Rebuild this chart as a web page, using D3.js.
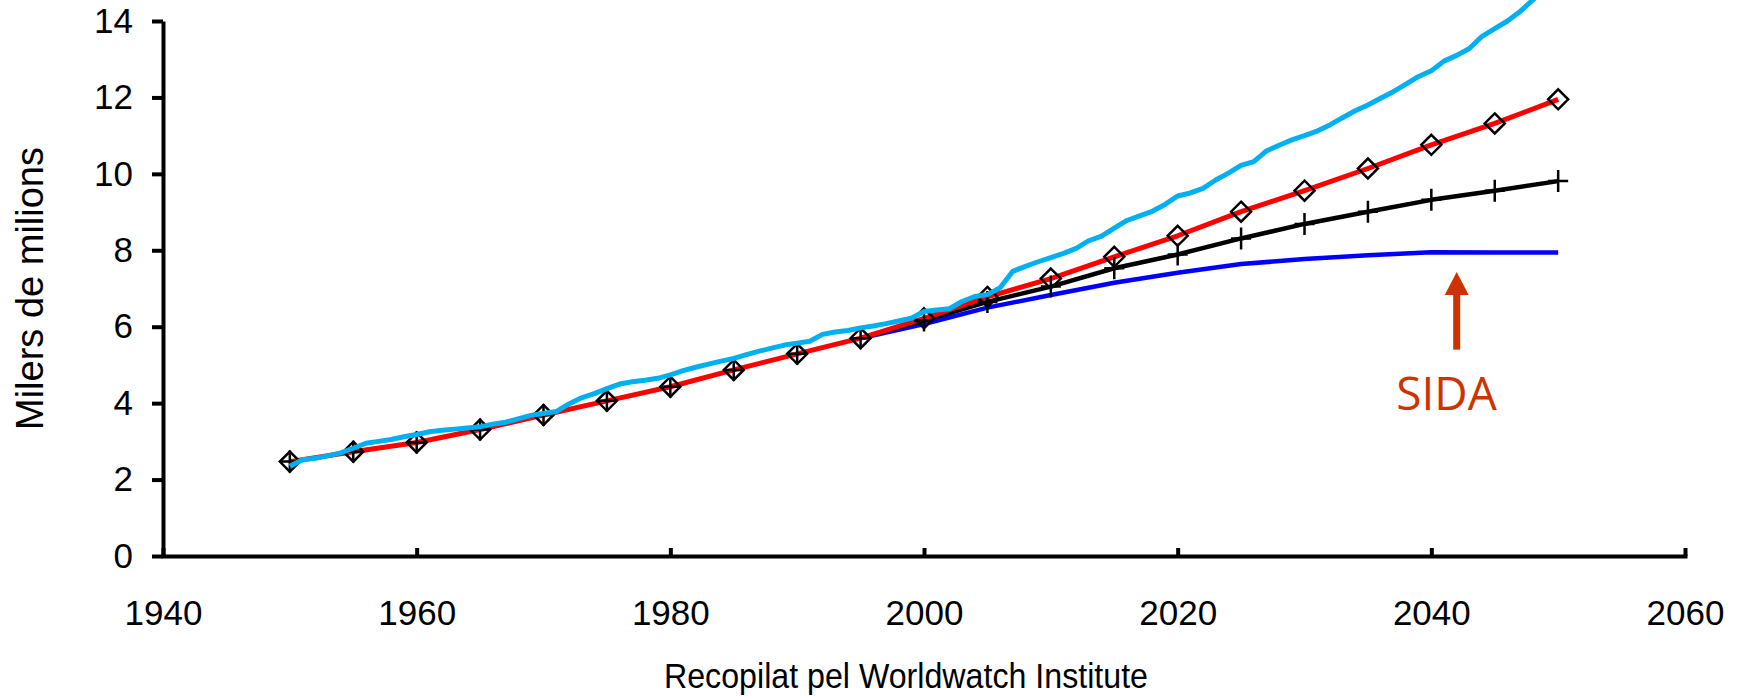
<!DOCTYPE html>
<html>
<head>
<meta charset="utf-8">
<script src="https://cdn.jsdelivr.net/npm/d3@7"></script>
<style>
  html, body { margin: 0; padding: 0; background: #fff; }
  svg { display: block; }
</style>
</head>
<body>
<div id="app"></div>
<script>
// 尺寸
const width = 1741;
const height = 696;
const padding = { left: 163, right: 56, top: 21, bottom: 140 };
const chartWidth = width - padding.left - padding.right;
const chartHeight = height - padding.top - padding.bottom;

// 数据：每5年一个点
const years5 = [1950, 1955, 1960, 1965, 1970, 1975, 1980, 1985, 1990, 1995, 2000,
  2005, 2010, 2015, 2020, 2025, 2030, 2035, 2040, 2045, 2050];
const redValues = [2.47, 2.73, 2.97, 3.31, 3.69, 4.06, 4.43, 4.87, 5.29, 5.70, 6.22,
  6.78, 7.26, 7.83, 8.38, 9.01, 9.56, 10.14, 10.76, 11.32, 11.95];
const blackValues = [2.47, 2.73, 2.97, 3.31, 3.69, 4.06, 4.43, 4.87, 5.29, 5.70, 6.16,
  6.65, 7.05, 7.53, 7.89, 8.31, 8.69, 9.01, 9.32, 9.56, 9.81];
const blueYears = [1995, 2000, 2005, 2010, 2015, 2020, 2025, 2030, 2035, 2040, 2045, 2050];
const blueValues = [5.70, 6.07, 6.50, 6.83, 7.15, 7.41, 7.64, 7.77, 7.87, 7.95, 7.94, 7.94];

// 每年的数据（浅蓝线）
const cyanYears = d3.range(1950, 2051);
const cyanValues = [
  2.35, 2.52, 2.56, 2.62, 2.70, 2.82, 2.95, 3.00, 3.05, 3.12,
  3.18, 3.25, 3.29, 3.32, 3.35, 3.38, 3.45, 3.50, 3.59, 3.68,
  3.73, 3.78, 3.98, 4.14, 4.25, 4.38, 4.50, 4.56, 4.60, 4.65,
  4.74, 4.85, 4.94, 5.02, 5.10, 5.17, 5.27, 5.36, 5.44, 5.52,
  5.57, 5.62, 5.80, 5.86, 5.90, 5.97, 6.02, 6.08, 6.15, 6.22,
  6.40, 6.44, 6.47, 6.66, 6.79, 6.84, 7.02, 7.45, 7.58, 7.70,
  7.81, 7.92, 8.05, 8.25, 8.37, 8.58, 8.78, 8.90, 9.02, 9.20,
  9.42, 9.50, 9.62, 9.84, 10.02, 10.22, 10.32, 10.60, 10.75, 10.89,
  11.00, 11.12, 11.28, 11.47, 11.65, 11.80, 11.98, 12.15, 12.35, 12.55,
  12.70, 12.95, 13.10, 13.28, 13.60, 13.80, 14.00, 14.25, 14.55, 14.85,
  15.15
];

const xTicks = [1940, 1960, 1980, 2000, 2020, 2040, 2060];
const yTicks = [0, 2, 4, 6, 8, 10, 12, 14];

const svg = d3.select('#app').append('svg')
  .attr('width', width)
  .attr('height', height);

const g = svg.append('g')
  .attr('transform', `translate(${padding.left}, ${padding.top})`);

const xScale = d3.scaleLinear().domain([1940, 2060]).range([0, chartWidth]);
const yScale = d3.scaleLinear().domain([0, 14]).range([chartHeight, 0]);

// 折线
const line = d3.line()
  .x(d => xScale(d[0]))
  .y(d => yScale(d[1]));

const drawLine = (xs, ys, color, w) => {
  g.append('path')
    .datum(xs.map((x, i) => [x, ys[i]]))
    .attr('fill', 'none')
    .attr('stroke', color)
    .attr('stroke-width', w)
    .attr('stroke-linejoin', 'round')
    .attr('d', line);
};

drawLine(blueYears, blueValues, '#0000ff', 4.5);
drawLine(years5.filter(y => y >= 1995), blackValues.slice(9), '#000000', 4.5);
drawLine(years5, redValues, '#ff0000', 5);

// 标记：十字
g.selectAll('.plus')
  .data(years5.map((x, i) => [x, blackValues[i]]))
  .enter()
  .append('path')
  .attr('class', 'plus')
  .attr('transform', d => `translate(${xScale(d[0])}, ${yScale(d[1])})`)
  .attr('d', 'M-10,0H10M0,-11V11')
  .attr('stroke', '#000')
  .attr('stroke-width', 2.5)
  .attr('fill', 'none');

// 标记：菱形
g.selectAll('.diamond')
  .data(years5.map((x, i) => [x, redValues[i]]))
  .enter()
  .append('path')
  .attr('class', 'diamond')
  .attr('transform', d => `translate(${xScale(d[0])}, ${yScale(d[1])})`)
  .attr('d', 'M0,-10L10,0L0,10L-10,0Z')
  .attr('stroke', '#000')
  .attr('stroke-width', 2.5)
  .attr('fill', 'none');

drawLine(cyanYears, cyanValues, '#00b0f0', 5);

// 坐标轴
const xAxis = d3.axisBottom(xScale)
  .tickValues(xTicks)
  .tickFormat(d3.format('d'))
  .tickSizeInner(-8)
  .tickSizeOuter(0)
  .tickPadding(44);

const xg = g.append('g')
  .attr('transform', `translate(0, ${chartHeight})`)
  .call(xAxis);

const yAxis = d3.axisLeft(yScale)
  .tickValues(yTicks)
  .tickSizeInner(11)
  .tickSizeOuter(0)
  .tickPadding(19);

const yg = g.append('g').call(yAxis);

[xg, yg].forEach(a => {
  a.selectAll('path, line').attr('stroke', '#000').attr('stroke-width', 4);
  a.selectAll('text')
    .attr('fill', '#000')
    .style('font-family', '"Liberation Sans", Arial, sans-serif')
    .style('font-size', '35px');
});
xg.select('.domain').attr('stroke-linecap', 'square');

// 轴标题
svg.append('text')
  .attr('x', 906)
  .attr('y', 688)
  .attr('text-anchor', 'middle')
  .attr('textLength', 484)
  .attr('lengthAdjust', 'spacingAndGlyphs')
  .style('font-family', '"Liberation Sans", Arial, sans-serif')
  .style('font-size', '35px')
  .text('Recopilat pel Worldwatch Institute');

svg.append('text')
  .attr('transform', `translate(43, ${padding.top + chartHeight / 2}) rotate(-90)`)
  .attr('text-anchor', 'middle')
  .style('font-family', '"Liberation Sans", Arial, sans-serif')
  .style('font-size', '38px')
  .text('Milers de milions');

// 注释：SIDA 箭头
const arrowYear = 2042;
const arrowTop = 7.43;
const arrowBottom = 5.4;
const ax = xScale(arrowYear);
const ay = yScale(arrowTop);
g.append('path')
  .attr('d', `M${ax},${ay}L${ax + 12},${ay + 23}L${ax - 12},${ay + 23}Z`)
  .attr('fill', '#cc3300');
g.append('rect')
  .attr('x', ax - 3.5)
  .attr('y', ay + 20)
  .attr('width', 7)
  .attr('height', yScale(arrowBottom) - ay - 20)
  .attr('fill', '#cc3300');

g.append('text')
  .attr('x', xScale(2041.2))
  .attr('y', yScale(3.82))
  .attr('text-anchor', 'middle')
  .attr('fill', '#cc3300')
  .style('font-family', '"Open Sans", "Noto Sans", sans-serif')
  .style('font-size', '46px')
  .text('SIDA');
</script>
</body>
</html>
